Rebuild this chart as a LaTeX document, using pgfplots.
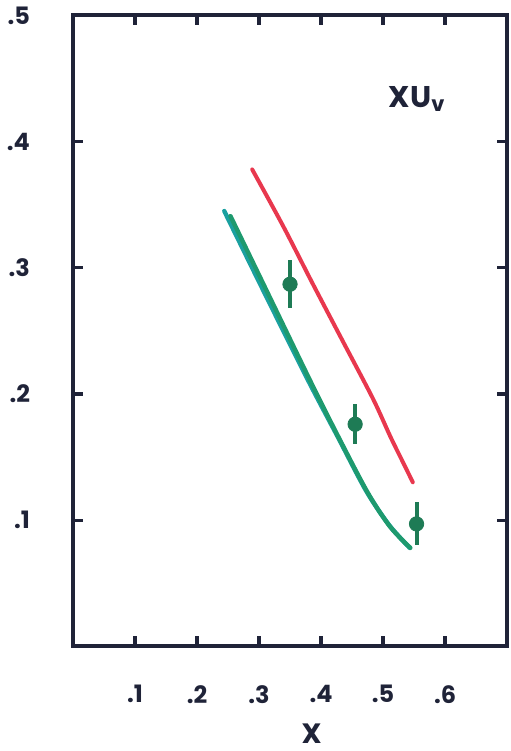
\documentclass[border=0pt]{standalone}
\usepackage{fontspec}
\setmainfont{Poppins}
\usepackage{pgfplots}
\pgfplotsset{compat=1.18}
\definecolor{ink}{HTML}{1F2338}
\definecolor{redl}{HTML}{E8384E}
\definecolor{greenl}{HTML}{1E9A6E}
\definecolor{teall}{HTML}{1AA0A0}
\definecolor{ptg}{HTML}{1E7B55}
\begin{document}
\begin{tikzpicture}
\begin{axis}[
  scale only axis, width=217.5pt, height=316pt,
  xmin=0, xmax=0.7, ymin=0, ymax=0.5,
  clip=false,
  axis line style={ink, line width=2pt},
  tick style={ink, line width=1.6pt},
  major tick length=5pt,
  tick align=inside, tick pos=both,
  xtick={0.1,0.2,0.3,0.4,0.5,0.6},
  xticklabels={.1,.2,.3,.4,.5,.6},
  ytick={0.1,0.2,0.3,0.4,0.5},
  yticklabels={.1,.2,.3,.4,.5},
  /pgf/number format/assume math mode=true,
  ticklabel style={font=\fontsize{12}{14}\selectfont\bfseries, text=ink},
  xticklabel style={yshift=-16pt},
  yticklabel style={xshift=-18pt},
  xlabel={X},
  xlabel style={font=\fontsize{14}{16}\selectfont\bfseries, text=ink, at={(axis description cs:0.55,-0.138)}, anchor=center},
]
\path (rel axis cs:-0.168,-0.166) rectangle (rel axis cs:1.009,1.022);
% red curve
\addplot[redl, line width=2pt, smooth, tension=0.5, line cap=round] coordinates {
(0.289,0.378) (0.339,0.333) (0.387,0.287) (0.436,0.241) (0.484,0.196) (0.512,0.166) (0.532,0.146) (0.548,0.130)};
% green band (two close strokes)
\addplot[teall, line width=2.2pt, smooth, tension=0.5, line cap=round] coordinates {
(0.244,0.345) (0.312,0.277) (0.380,0.210) (0.427,0.166) (0.473,0.123) (0.510,0.096) (0.543,0.078)};
\addplot[greenl, line width=2.2pt, smooth, tension=0.5, line cap=round] coordinates {
(0.254,0.341) (0.318,0.276) (0.384,0.209) (0.429,0.165) (0.475,0.122) (0.511,0.095) (0.544,0.078)};
% data points with error bars
\addplot[ptg, only marks, mark=*, mark size=3.6pt, mark options={fill=ptg, draw=ptg},
  error bars/.cd, y dir=both, y explicit,
  error bar style={ptg, line width=2pt}, error mark=none]
  coordinates {
(0.350,0.287) +- (0,0.019)
(0.455,0.176) +- (0,0.016)
(0.554,0.097) +- (0,0.017)};
\node[text=ink, font=\fontsize{15}{17}\selectfont\bfseries] at (axis cs:0.555,0.434) {XU$_{\mathbf{v}}$};
\end{axis}
\end{tikzpicture}
\end{document}
